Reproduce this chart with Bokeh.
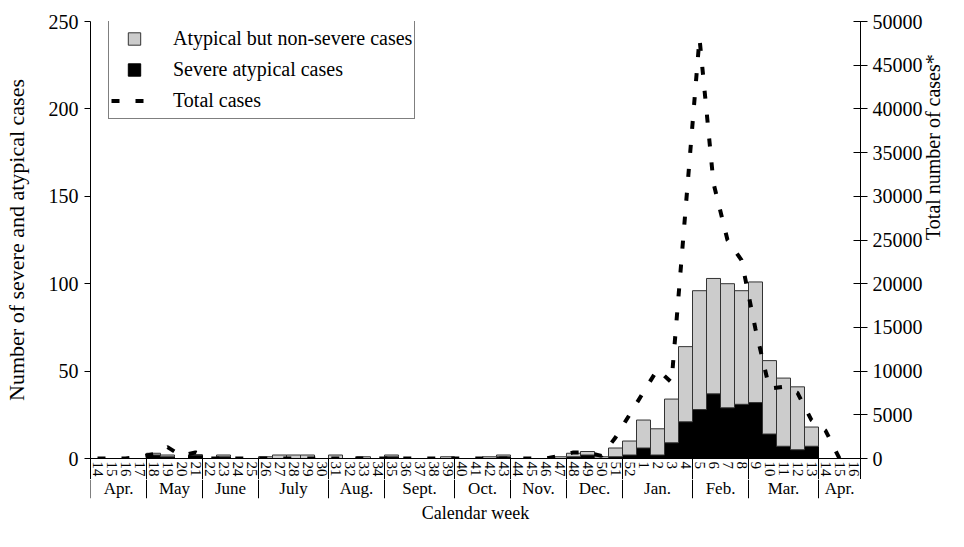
import math
import numpy as np
from bokeh.plotting import figure
from bokeh.models import (Range1d, LinearAxis, FixedTicker, ColumnDataSource,
                          Legend, LegendItem, Title, Span)
from bokeh.layouts import column
from bokeh.embed import file_html
from bokeh.resources import INLINE
from bokeh.core.properties import value

# ---------------- data ----------------
weeks = [14, 15, 16, 17, 18, 19, 20, 21, 22, 23, 24, 25, 26, 27, 28, 29, 30,
         31, 32, 33, 34, 35, 36, 37, 38, 39, 40, 41, 42, 43, 44, 45, 46, 47,
         48, 49, 50, 51, 52, 1, 2, 3, 4, 5, 6, 7, 8, 9, 10, 11, 12, 13,
         14, 15, 16]
months = ["Apr.", "May", "June", "July", "Aug.", "Sept.", "Oct.", "Nov.",
          "Dec.", "Jan.", "Feb.", "Mar.", "Apr."]
month_weeks = [4, 4, 4, 5, 4, 5, 4, 4, 4, 5, 4, 5, 3]

severe = [0, 0, 0, 0,  2, 1, 0, 2,  0, 1, 0, 0,  0, 0, 0, 0, 0,
          0, 0, 0, 0,  1, 0, 0, 0, 0,  0, 0, 0, 1,  0, 0, 0, 0,
          1, 2, 0, 1,  2, 6, 2, 9, 21,  28, 37, 29, 31,
          32, 14, 7, 5, 7,  0, 0, 0]
nonsevere = [0, 0, 0, 0,  1, 1, 0, 0,  0, 1, 0, 0,  1, 2, 2, 2, 0,
             2, 0, 1, 0,  1, 0, 0, 0, 1,  0, 0, 1, 1,  0, 0, 0, 1,
             2, 2, 1, 5,  8, 16, 15, 25, 43,  68, 66, 71, 65,
             69, 42, 39, 36, 11,  0, 0, 0]
total_cases = [0, 0, 0, 200,  500, 1300, 300, 700,  0, 0, 0, 0,  0, 0, 0, 0, 0,
               0, 0, 0, 0,  0, 0, 0, 0, 0,  0, 0, 0, 0,  0, 0, 0, 300,
               700, 700, 300, 2400,  5000, 7600, 10200, 8700, 28400,
               48100, 31500, 25000, 22700,
               14800, 8000, 8200, 7500, 4400,  3200, 0, 0]

left_ticks = [0, 50, 100, 150, 200, 250]
right_ticks = [0, 5000, 10000, 15000, 20000, 25000, 30000, 35000, 40000, 45000, 50000]

FONT = "Liberation Serif"
N = len(weeks)
xs = list(range(N))
bounds = (np.cumsum([0] + month_weeks) - 0.5).tolist()
centers = [(a + b) / 2 for a, b in zip(bounds[:-1], bounds[1:])]
src = ColumnDataSource(dict(x=xs, severe=severe, nonsevere=nonsevere, total=total_cases))

# ---------------- main chart ----------------
p = figure(frame_width=770, frame_height=437,
           x_range=Range1d(-0.5, N - 0.5), y_range=Range1d(0, 250),
           output_backend="svg", toolbar_location=None,
           min_border_left=85, min_border_top=21, min_border_bottom=0, min_border_right=5)
p.extra_y_ranges = {"total": Range1d(0, 50000)}
p.xgrid.visible = False
p.ygrid.visible = False
p.outline_line_color = None

p.vbar_stack(["severe", "nonsevere"], x="x", width=1.0, source=src,
             fill_color=["black", "#cccccc"], line_color=["black", "#333333"],
             line_width=1)
total_line = p.line("x", "total", source=src, y_range_name="total",
                    line_color="black", line_width=4, line_dash="8 16")


def style_axis(ax, label_size="20px"):
    ax.axis_line_color = "black"
    ax.major_tick_line_color = "black"
    ax.minor_tick_line_color = None
    ax.major_label_text_font = FONT
    ax.major_label_text_font_size = "20px"
    ax.major_label_text_color = "black"
    ax.axis_label_text_font = FONT
    ax.axis_label_text_font_size = label_size
    ax.axis_label_text_font_style = "normal"
    ax.axis_label_text_color = "black"


# bottom axis: week numbers; month separators drawn as outward minor ticks
xa = p.xaxis[0]
xa.ticker = FixedTicker(ticks=xs, minor_ticks=bounds)
xa.major_label_overrides = {i: str(w) for i, w in enumerate(weeks)}
xa.major_label_orientation = -math.pi / 2
xa.major_label_text_font = FONT
xa.major_label_text_font_size = "15px"
xa.major_label_text_color = "black"
xa.major_label_standoff = 3
xa.major_tick_line_color = None
xa.major_tick_in = 0
xa.major_tick_out = 0
xa.minor_tick_line_color = "black"
xa.minor_tick_line_width = 1
xa.minor_tick_in = -45
xa.minor_tick_out = 0
xa.axis_line_color = "black"

ya = p.yaxis[0]
ya.ticker = FixedTicker(ticks=left_ticks)
ya.axis_label = "Number of severe and atypical cases"
style_axis(ya, "22px")
ya.major_tick_in = 0
ya.major_tick_out = 6
ya.major_label_standoff = 6
ya.axis_label_standoff = 17

ra = LinearAxis(y_range_name="total", ticker=FixedTicker(ticks=right_ticks),
                axis_label="Total number of cases*")
style_axis(ra)
ra.major_tick_in = 7
ra.major_tick_out = 7
ra.major_label_standoff = 5
ra.axis_label_standoff = 7
if "axis_label_orientation" in ra.properties():
    ra.axis_label_orientation = math.pi / 2
p.add_layout(ra, "right")

# legend (dummy square markers, not drawn in the plot)
leg_src = ColumnDataSource(dict(x=np.array([0.0]), y=np.array([np.nan])))
r_gray = p.scatter("x", "y", source=leg_src, marker="square", size=16,
                   fill_color="#cccccc", line_color="#333333")
r_black = p.scatter("x", "y", source=leg_src, marker="square", size=16,
                    fill_color="black", line_color="black")
legend = Legend(items=[LegendItem(label="Atypical but non-severe cases", renderers=[r_gray]),
                       LegendItem(label="Severe atypical cases", renderers=[r_black]),
                       LegendItem(label="Total cases", renderers=[total_line])],
                location=(18, 339), orientation="vertical", margin=0,
                padding=2, spacing=0, glyph_width=46, glyph_height=31,
                label_standoff=16, label_text_font=FONT, label_text_font_size="20px",
                label_text_color="black",
                border_line_color="black", border_line_width=1,
                background_fill_color="white", background_fill_alpha=1.0)
p.add_layout(legend)

# ---------------- month band ----------------
BAND = 19
p2 = figure(frame_width=770, frame_height=BAND, x_range=p.x_range,
            y_range=Range1d(-BAND, 0), x_axis_type=None, y_axis_type=None,
            output_backend="svg", toolbar_location=None,
            min_border_left=85, min_border_right=5, min_border_top=0, min_border_bottom=0)
p2.outline_line_color = None

for b in bounds:
    p2.add_layout(Span(location=b, dimension="height",
                       line_color="black", line_width=1))
mo_src = ColumnDataSource(dict(x=centers, label=months))
p2.text(x="x", y=-9, text="label", source=mo_src, text_align="center",
        text_baseline="middle", text_color="black",
        text_font=value(FONT), text_font_size="17px")

p2.add_layout(Title(text="Calendar week", align="center", text_font=FONT,
                    text_font_size="18px", text_font_style="normal",
                    text_color="black", standoff=4), "below")

layout = column(p, p2, spacing=0)
open("out.html", "w").write(file_html(layout, INLINE))
